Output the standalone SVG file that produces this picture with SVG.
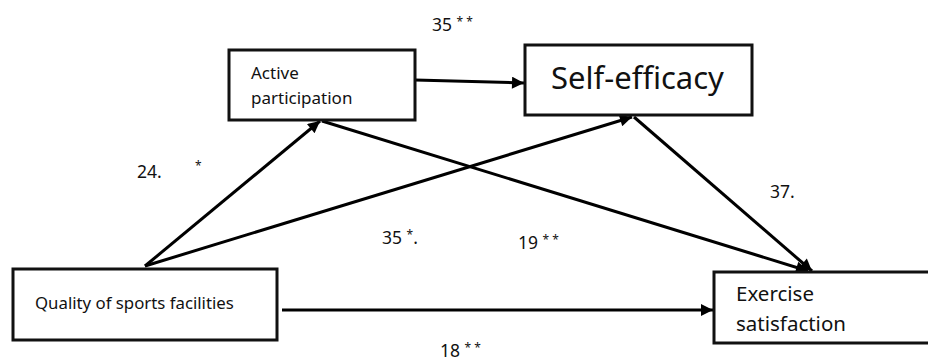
<svg xmlns="http://www.w3.org/2000/svg" width="928" height="363" viewBox="0 0 928 363">
<defs>
<marker id="ah" viewBox="0 0 10 10" refX="10" refY="5" markerWidth="5" markerHeight="4" markerUnits="strokeWidth" orient="auto">
<path d="M0,0 L10,5 L0,10 z" fill="#000"/>
</marker>
<style>
.box{fill:#fff;stroke:#111;stroke-width:3}
.t{font-family:"Noto Sans","Open Sans",sans-serif;fill:#111}
.e{stroke:#000;stroke-width:3;fill:none;marker-end:url(#ah)}
.lab{font-family:"Noto Sans","Open Sans",sans-serif;font-size:17.5px;fill:#111}
.st{font-size:12px}
</style>
</defs>
<rect width="928" height="363" fill="#fff"/>
<g id="connectors">
<line class="e" x1="415" y1="80" x2="524" y2="83"/>
<line class="e" x1="145" y1="266" x2="320" y2="121"/>
<line class="e" x1="145" y1="266" x2="632" y2="117"/>
<line class="e" x1="322" y1="121" x2="808" y2="271"/>
<line class="e" x1="634" y1="117" x2="812" y2="271"/>
<line class="e" x1="282" y1="310" x2="713" y2="310"/>
</g>
<g id="active">
<rect class="box" x="229" y="50" width="186" height="70"/>
<text class="t" x="251" y="79" font-size="17">Active</text>
<text class="t" x="251" y="104" font-size="17">participation</text>
</g>
<g id="self">
<rect class="box" x="525" y="45" width="227" height="70"/>
<text class="t" x="551" y="89" font-size="31">Self-efficacy</text>
</g>
<g id="quality">
<rect class="box" x="13" y="269" width="264" height="71"/>
<text class="t" x="35" y="309" font-size="16.8">Quality of sports facilities</text>
</g>
<g id="exercise">
<rect class="box" x="714" y="272" width="220" height="71"/>
<text class="t" x="736" y="301" font-size="20.5">Exercise</text>
<text class="t" x="736" y="331" font-size="20.5">satisfaction</text>
</g>
<g id="labels">
<text class="lab" x="432" y="31">35 <tspan class="st" dy="-5">* *</tspan></text>
<text class="lab" x="137" y="178">24.</text>
<text class="lab st" x="195" y="170">*</text>
<text class="lab" x="382" y="244">35 <tspan class="st" dy="-5">*</tspan><tspan dy="5">.</tspan></text>
<text class="lab" x="518" y="249">19 <tspan class="st" dy="-5">* *</tspan></text>
<text class="lab" x="770" y="198">37.</text>
<text class="lab" x="440" y="357">18 <tspan class="st" dy="-5">* *</tspan></text>
</g>
</svg>
